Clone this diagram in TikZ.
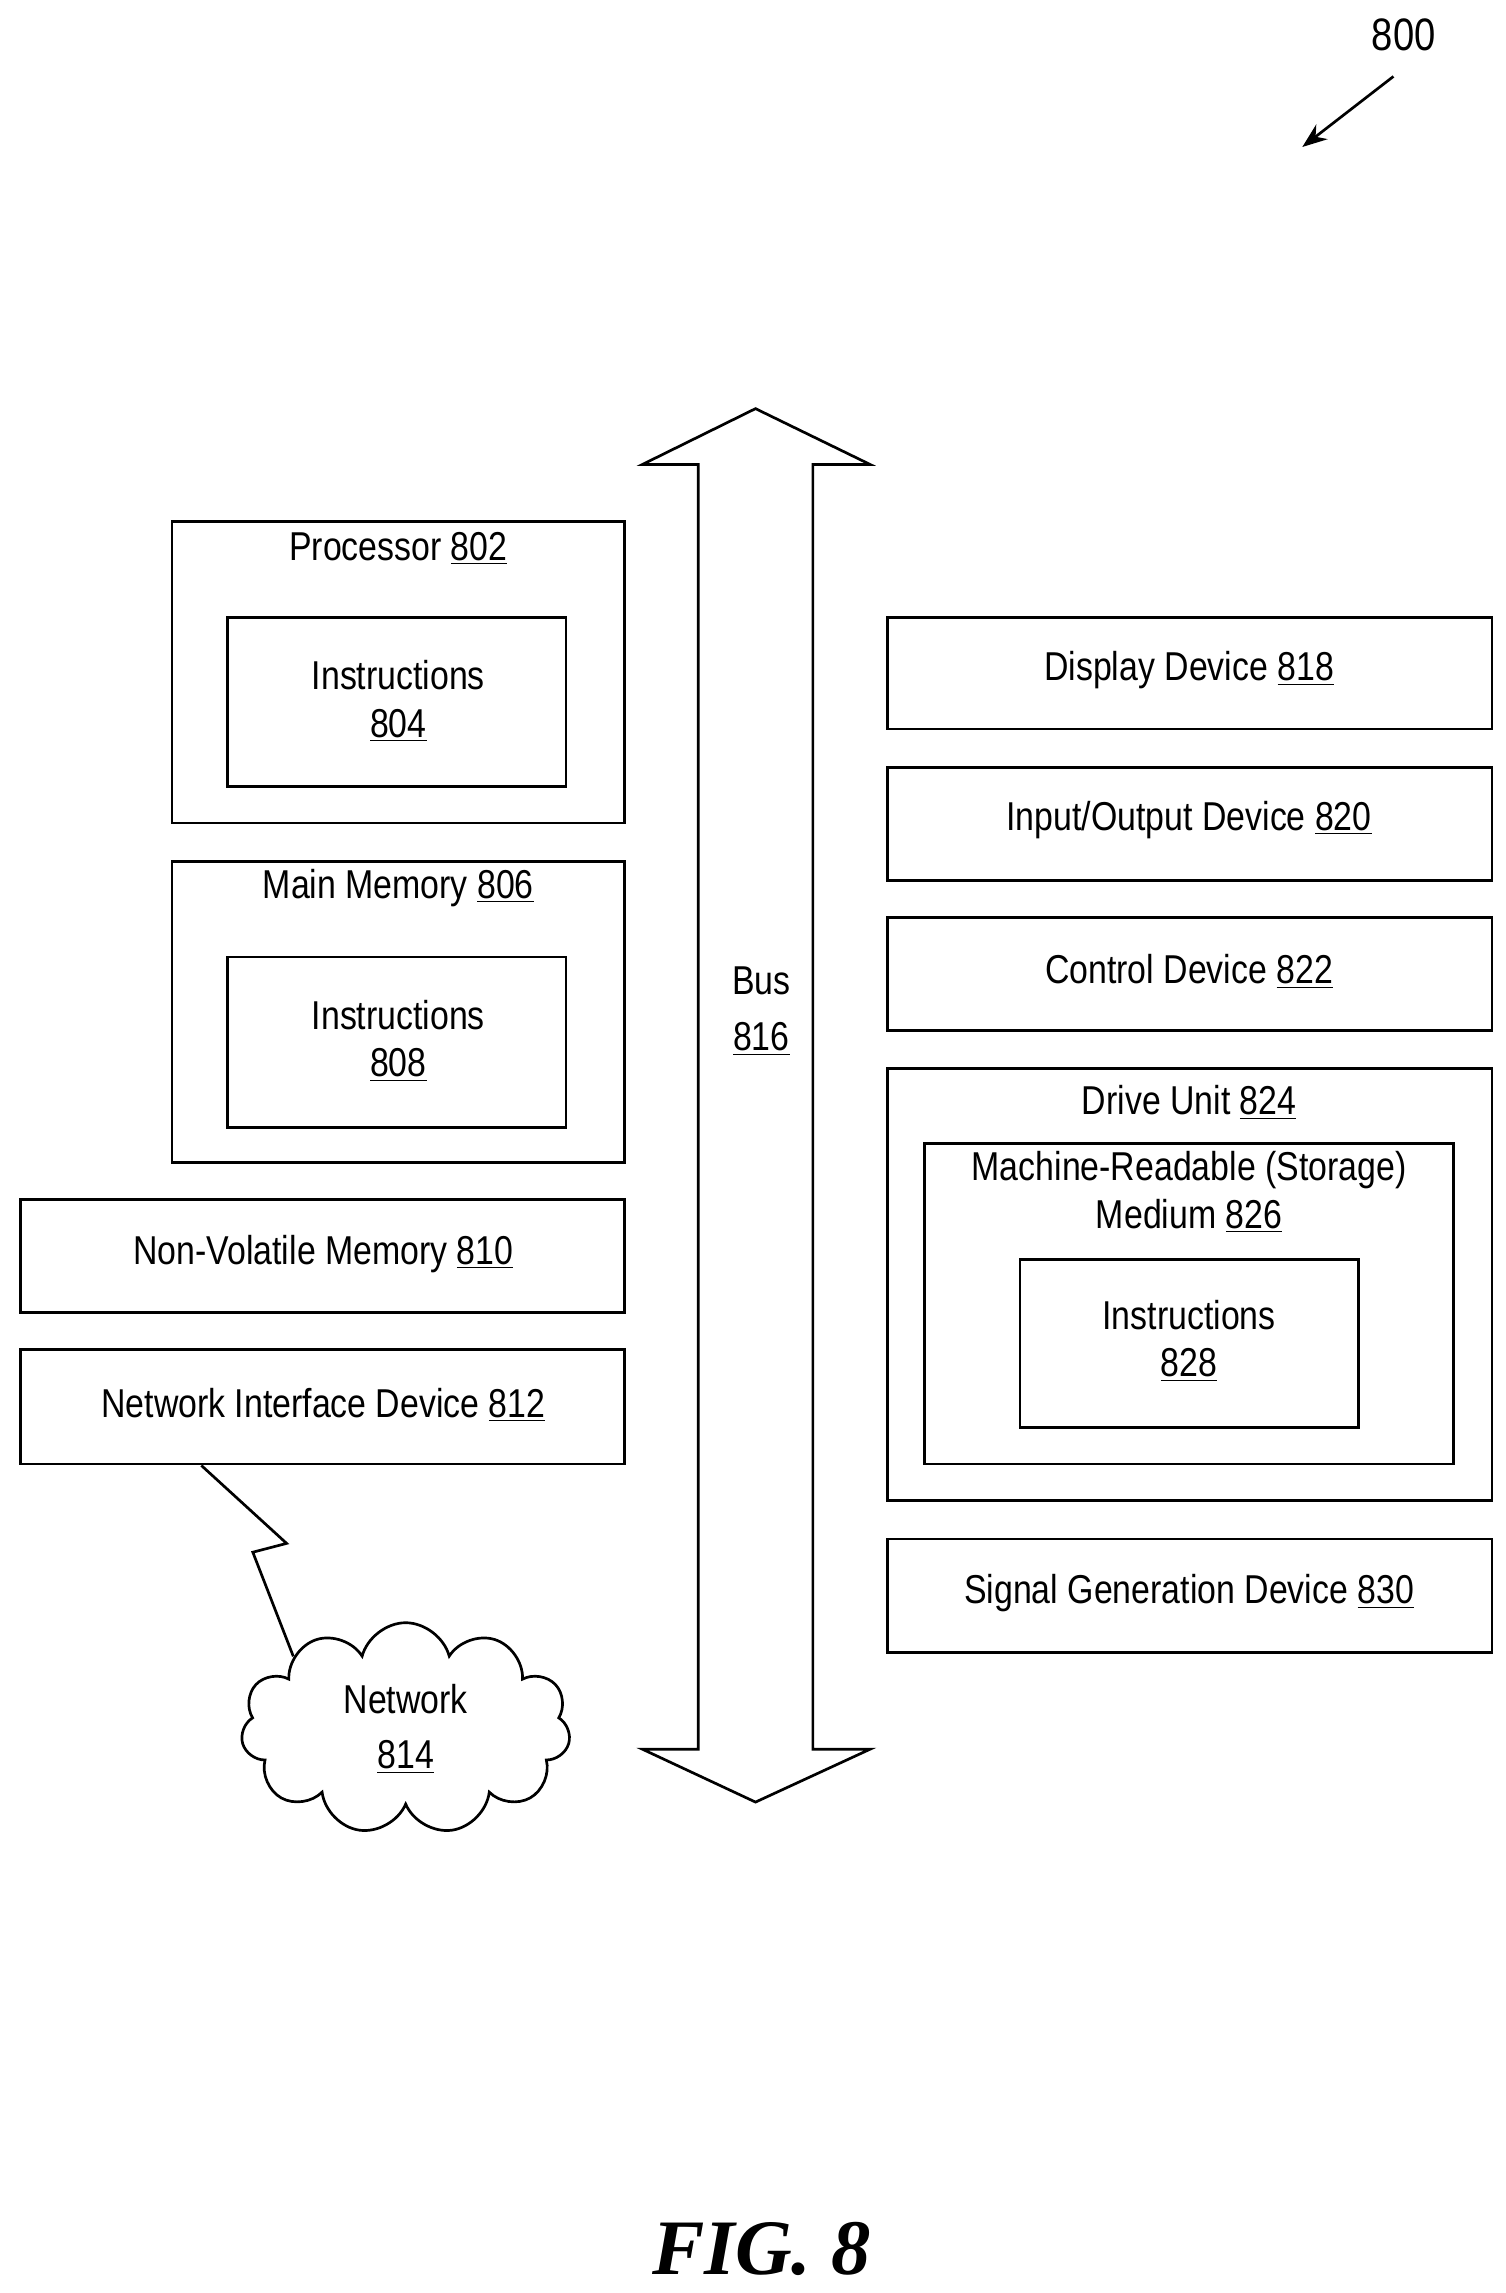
\documentclass[tikz,border=0pt]{standalone}
\usepackage{fontspec}
\setmainfont{Liberation Sans}[FakeStretch=0.84]
\newfontfamily\figfont{Liberation Serif}
\usetikzlibrary{shapes.symbols, arrows.meta}
\tikzset{
    box/.style={draw, line width=1.3pt},
    lbl/.style={font=\fontsize{19.5}{23}\selectfont, align=center, inner sep=0pt}
}
\begin{document}
\begin{tikzpicture}[x=0.025cm, y=-0.025cm]
        \useasboundingbox (0,0) rectangle (1024,1560);
        % Rahmen links
        \draw[box] (117,355) rectangle (425,560);
        \draw[box] (155,420) rectangle (385,535);
        \draw[box] (117,586) rectangle (425,791);
        \draw[box] (155,651) rectangle (385,767);
        \draw[box] (14,816) rectangle (425,893);
        \draw[box] (14,918) rectangle (425,996);
        % Rahmen rechts
        \draw[box] (604,420) rectangle (1015,496);
        \draw[box] (604,522) rectangle (1015,599);
        \draw[box] (604,624) rectangle (1015,701);
        \draw[box] (604,727) rectangle (1015,1021);
        \draw[box] (629,778) rectangle (989,996);
        \draw[box] (694,857) rectangle (924,971);
        \draw[box] (604,1047) rectangle (1015,1124);
        % Bus
        \draw[box] (475,316) -- (437,316) -- (514,278) -- (592,316) -- (553,316)
            -- (553,1190) -- (592,1190) -- (514,1226) -- (437,1190) -- (475,1190) -- cycle;
        % Texte
        \node[lbl] (proc) at (271,373) {Processor \underline{802}};
        \node[lbl] (instrA) at (271,477) {Instructions\\\underline{804}};
        \node[lbl] (mem) at (271,604) {Main Memory \underline{806}};
        \node[lbl] (instrB) at (271,708) {Instructions\\\underline{808}};
        \node[lbl] (nvm) at (220,853) {Non-Volatile Memory \underline{810}};
        \node[lbl] (nid) at (220,956) {Network Interface Device \underline{812}};
        \node[lbl] (bus) at (518,688) {Bus\\[4pt]\underline{816}};
        \node[lbl] (disp) at (809,456) {Display Device \underline{818}};
        \node[lbl] (io) at (809,558) {Input/Output Device \underline{820}};
        \node[lbl] (ctrl) at (809,661) {Control Device \underline{822}};
        \node[lbl] (drive) at (809,750) {Drive Unit \underline{824}};
        \node[lbl] (medium) at (809,811) {Machine-Readable (Storage)\\Medium \underline{826}};
        \node[lbl] (instrC) at (809,912) {Instructions\\\underline{828}};
        \node[lbl] (sig) at (809,1084) {Signal Generation Device \underline{830}};
        % Netzwerk
        \node[draw, line width=1.3pt, cloud, cloud puffs=11, aspect=1.5,
            minimum width=5.6cm, minimum height=3.6cm, lbl] (net) at (276,1176)
            {Network\\[4pt]\underline{814}};
        \coordinate (nidfoot) at (137,997);
        \draw[line width=1.3pt] (nidfoot) -- (195,1050) -- (172,1056) -- (net.north west);
        % Bezugszeichen
        \node[lbl, font=\fontsize{22}{26}\selectfont] (ref) at (955,24) {800};
        \coordinate (reftip) at (886,100);
        \draw[line width=1.3pt, -{Stealth[length=12pt, width=9pt]}] (948,52) -- (reftip);
        \node[font=\fontsize{38}{42}\selectfont\figfont\bfseries\itshape, inner sep=0pt] (fig) at (518,1530) {FIG. 8};
\end{tikzpicture}
\end{document}
